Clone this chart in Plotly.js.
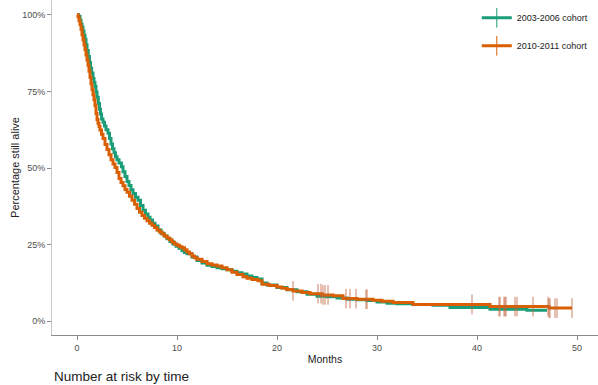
<!DOCTYPE html>
<html>
<head>
<meta charset="utf-8">
<script src="https://cdn.plot.ly/plotly-3.0.1.min.js"></script>
<style>html,body{margin:0;padding:0;background:#fff;}#chart{width:598px;height:385px;}</style>
</head>
<body>
<div id="chart"></div>
<script>
// 2003-2006 cohort (Kaplan-Meier estimate, % still alive)
var greenMonths = [0, 0.15, 0.3, 0.4, 0.5, 0.6, 0.7, 0.8, 0.9, 1.0, 1.13, 1.25, 1.35, 1.46, 1.6, 1.7, 1.8, 1.9, 2.0, 2.13, 2.25, 2.35, 2.46, 2.6, 2.75, 2.9, 3.1, 3.25, 3.4, 3.55, 3.7, 3.85, 4.0, 4.2, 4.44, 4.6, 4.8, 5.0, 5.2, 5.4, 5.6, 5.85, 6.1, 6.35, 6.6, 6.85, 7.1, 7.3, 7.55, 7.8, 8.1, 8.4, 8.7, 9.0, 9.3, 9.6, 9.9, 10.2, 10.5, 10.75, 11, 11.5, 12, 12.5, 13, 13.5, 14, 14.5, 15, 15.5, 16, 16.5, 17, 17.5, 18, 18.5, 19, 20, 21, 22, 23, 24, 25, 26, 27, 28, 29, 30, 31, 32, 33.6, 35.6, 37.3, 41.3, 45, 47];
var greenSurv   = [100, 99.5, 98.2, 97, 96, 94.7, 93.3, 92, 90.2, 88.3, 86.4, 84.4, 82.6, 81, 79.2, 77.9, 76.6, 74.8, 73.1, 71, 69.2, 67.6, 66, 64.9, 63.7, 62.5, 61.3, 59.6, 57.8, 56.3, 55, 53.7, 52.7, 51.6, 50.4, 48.8, 47.2, 45.6, 44.3, 42.9, 41.7, 40.5, 39.5, 37.8, 36.2, 35.0, 33.9, 33.0, 32.0, 31.1, 29.8, 28.7, 27.8, 26.9, 26.0, 25.2, 24.5, 23.8, 23.0, 22.4, 22.0, 21.0, 19.8, 19.0, 18.3, 17.9, 17.5, 17.1, 16.8, 16.3, 15.8, 15.4, 14.8, 14.3, 13.8, 12.5, 11.8, 11.0, 10.3, 9.6, 8.8, 8.2, 8.0, 7.6, 7.2, 7.0, 6.8, 6.3, 5.9, 5.7, 5.5, 5.2, 4.5, 3.9, 3.6, 3.6];
// 2010-2011 cohort
var orangeMonths = [0, 0.1, 0.2, 0.3, 0.4, 0.5, 0.6, 0.7, 0.8, 0.9, 1.0, 1.1, 1.2, 1.3, 1.4, 1.5, 1.6, 1.7, 1.8, 1.9, 2.0, 2.1, 2.2, 2.3, 2.45, 2.6, 2.8, 3.0, 3.2, 3.4, 3.6, 3.8, 4.0, 4.2, 4.4, 4.6, 4.8, 5.0, 5.25, 5.5, 5.75, 6.0, 6.25, 6.5, 6.75, 7.0, 7.25, 7.5, 7.75, 8.0, 8.25, 8.5, 8.75, 9.0, 9.25, 9.5, 9.75, 10, 10.25, 10.5, 10.75, 11, 11.25, 11.5, 11.75, 12, 12.5, 13, 13.5, 14, 14.5, 15, 15.5, 16, 16.6, 17, 17.5, 18.1, 18.5, 19.2, 20, 20.5, 21, 21.6, 22.5, 23.3, 24.5, 25.6, 26.6, 28, 29.6, 30.5, 31.6, 33.6, 41.3, 47.2, 49.5];
var orangeSurv   = [100, 99.3, 98, 96.8, 95.3, 93.5, 91.8, 90.2, 88.6, 86.9, 85.2, 83.5, 81.6, 79.6, 77.5, 75.6, 73.9, 72.3, 70.3, 67.8, 65.8, 64.6, 63.5, 62.4, 61, 59.6, 57.7, 56, 54.3, 52.7, 51.3, 50.2, 48.5, 46.6, 45.3, 44.2, 43.0, 42.1, 40.8, 39.5, 38.2, 36.8, 35.6, 34.5, 33.6, 32.8, 32.0, 31.3, 30.6, 29.8, 29.1, 28.5, 27.8, 27.2, 26.6, 25.8, 25.2, 24.8, 24.3, 24.0, 23.3, 22.6, 22.0, 21.3, 20.7, 20.2, 19.5, 18.8, 18.4, 18.0, 17.5, 16.8, 16.0, 15.3, 14.5, 14.0, 13.6, 13.2, 12.1, 11.7, 11.2, 10.8, 10.4, 9.9, 9.4, 9.0, 8.6, 8.3, 7.4, 7.2, 6.9, 6.5, 6.1, 5.5, 4.8, 4.3, 4.3];
// censoring times (2010-2011 cohort)
var orangeCensor = [21.6, 24.1, 24.4, 24.6, 24.8, 25.1, 26.9, 27.3, 27.9, 28.9, 29.0, 39.5, 42.2, 42.3, 42.7, 42.8, 42.9, 43.8, 44.0, 45.6, 47.1, 47.2, 47.3, 47.8, 48.0, 49.5];
var seriesNames = ['2003-2006 cohort', '2010-2011 cohort'];
var xTicks = [0, 10, 20, 30, 40, 50];
var yTicks = [0, 25, 50, 75, 100];

var GREEN = '#1b9e77', ORANGE = '#d95f02';

function stepAt(ts, vs, t) {
  var v = vs[0];
  for (var i = 0; i < ts.length; i++) { if (ts[i] <= t) v = vs[i]; else break; }
  return v;
}
var censorY = orangeCensor.map(function (t) { return stepAt(orangeMonths, orangeSurv, t); });

var traces = [
  {x: greenMonths, y: greenSurv, mode: 'lines', line: {color: GREEN, width: 3, shape: 'hv'}, showlegend: false, hoverinfo: 'skip'},
  {x: orangeMonths, y: orangeSurv, mode: 'lines', line: {color: ORANGE, width: 3, shape: 'hv'}, showlegend: false, hoverinfo: 'skip'},
  {x: orangeCensor, y: censorY, mode: 'markers', marker: {symbol: 'line-ns-open', size: 14, color: '#c0623a', opacity: 0.8, line: {color: '#c0623a', width: 1}}, showlegend: false, hoverinfo: 'skip'},
  {x: [null], y: [null], name: seriesNames[0], legendgroup: 'a', mode: 'lines+markers', line: {color: GREEN, width: 3}, marker: {symbol: 'line-ns-open', size: 14, color: GREEN, line: {color: GREEN, width: 1}}},
  {x: [null], y: [null], name: seriesNames[1], legendgroup: 'b', mode: 'lines+markers', line: {color: ORANGE, width: 3}, marker: {symbol: 'line-ns-open', size: 14, color: ORANGE, line: {color: ORANGE, width: 1}}}
];

var FONT = 'Liberation Sans, Arial, sans-serif';
var layout = {
  width: 598, height: 385,
  margin: {l: 52, r: 0, t: 0, b: 50},
  paper_bgcolor: '#fff', plot_bgcolor: '#fff',
  font: {family: FONT, color: '#333', size: 9},
  xaxis: {
    range: [-2.5, 52.1], tickvals: xTicks, ticktext: xTicks.map(String),
    showgrid: false, zeroline: false, showline: true, linecolor: '#8c8c8c', linewidth: 1,
    ticks: 'outside', ticklen: 4, tickcolor: '#8c8c8c', tickfont: {size: 9, color: '#4d4d4d'},
    title: {text: 'Months', font: {size: 10.5, color: '#222'}, standoff: 3}
  },
  yaxis: {
    range: [-4.47, 104.8], tickvals: yTicks, ticktext: yTicks.map(function (v) { return v + '%'; }),
    showgrid: false, zeroline: false, showline: true, linecolor: '#c8c8c8', linewidth: 1,
    ticks: 'outside', ticklen: 4, tickcolor: '#8c8c8c', tickfont: {size: 9, color: '#4d4d4d'},
    title: {text: 'Percentage still alive', font: {size: 11, color: '#222'}, standoff: 0}
  },
  legend: {x: 0.778, xanchor: 'left', y: 0.99, yanchor: 'top', traceorder: 'grouped', tracegroupgap: 9,
           font: {size: 9, color: '#222'}, bgcolor: 'rgba(0,0,0,0)'},
  annotations: [{text: 'Number at risk by time', xref: 'paper', yref: 'paper', x: 0, y: -0.125,
                 xanchor: 'left', yanchor: 'middle', showarrow: false, font: {size: 13.5, color: '#222'}}]
};

Plotly.newPlot('chart', traces, layout, {displayModeBar: false, staticPlot: true});
</script>
</body>
</html>
